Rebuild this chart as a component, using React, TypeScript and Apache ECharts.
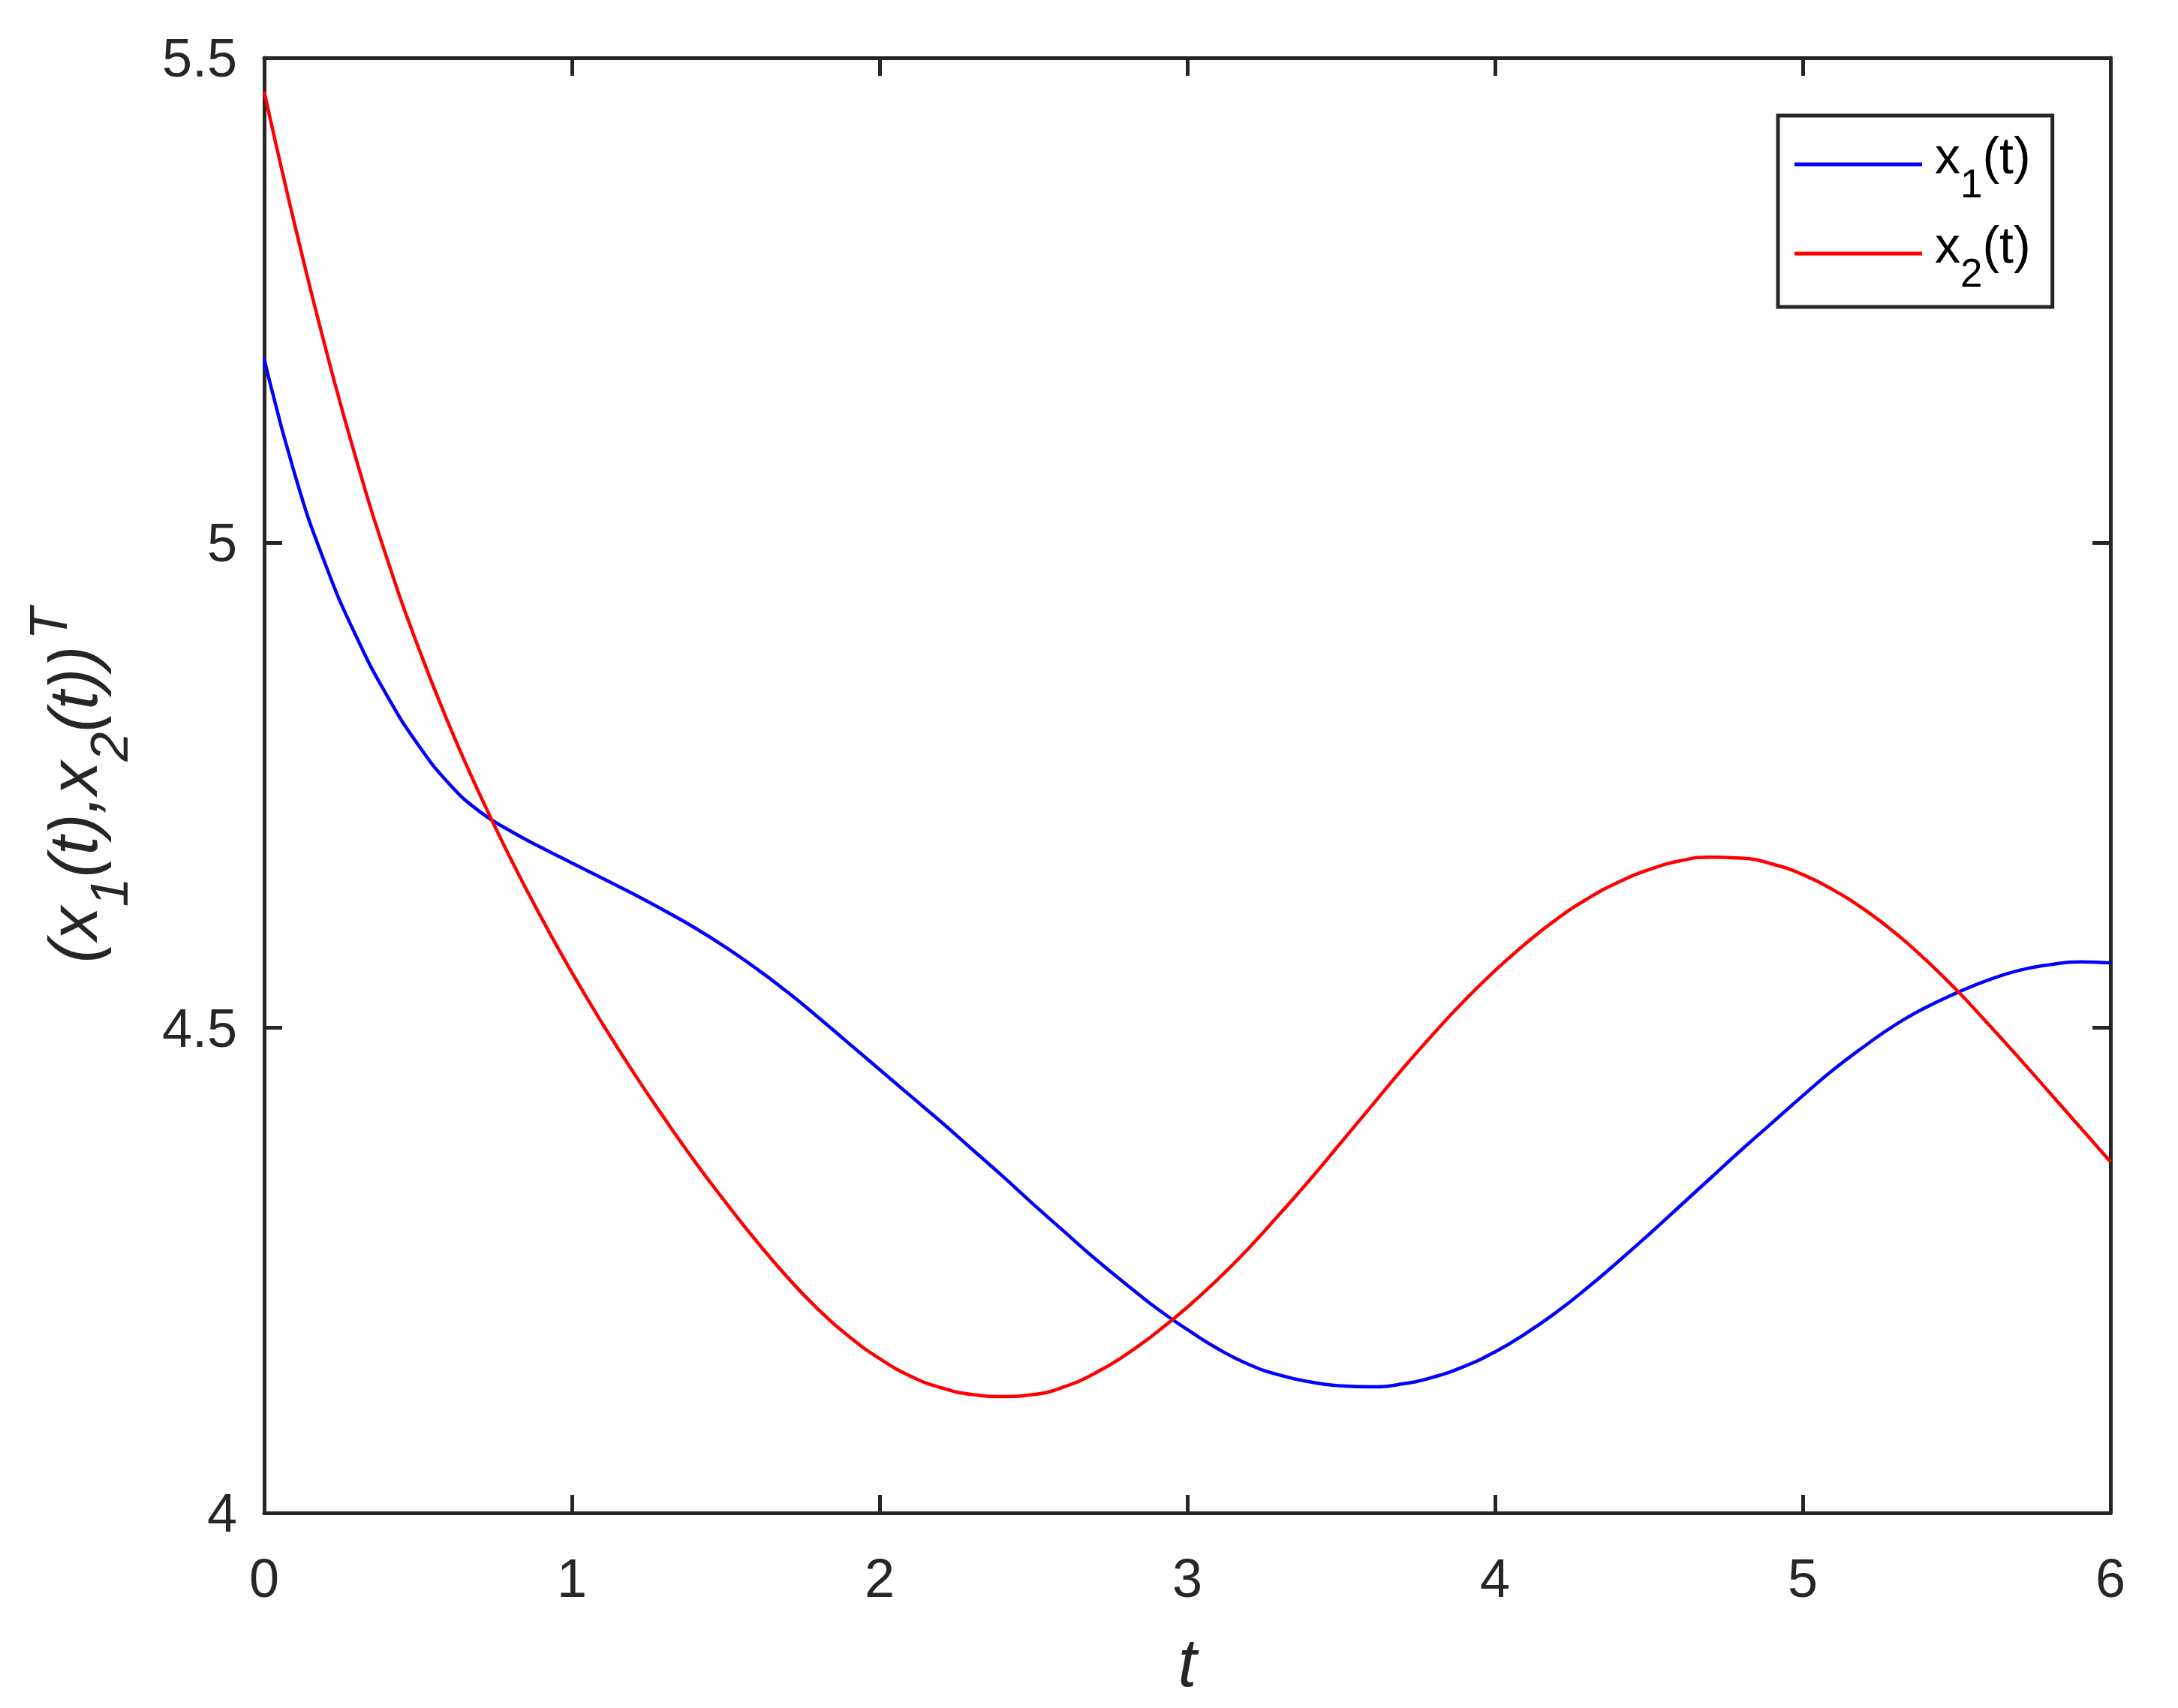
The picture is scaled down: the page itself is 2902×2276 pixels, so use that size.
import React, { useEffect, useRef } from 'react';
import * as echarts from 'echarts';

const tValues = [
  0.0, 0.1, 0.2, 0.3, 0.4, 0.5, 0.6, 0.7, 0.8, 0.9,
  1.0, 1.1, 1.2, 1.3, 1.4, 1.5, 1.6, 1.7, 1.8, 1.9,
  2.0, 2.1, 2.2, 2.3, 2.4, 2.5, 2.6, 2.7, 2.8, 2.9,
  3.0, 3.1, 3.2, 3.3, 3.4, 3.5, 3.6, 3.7, 3.8, 3.9,
  4.0, 4.1, 4.2, 4.3, 4.4, 4.5, 4.6, 4.7, 4.8, 4.9,
  5.0, 5.1, 5.2, 5.3, 5.4, 5.5, 5.6, 5.7, 5.8, 5.9,
  6.0,
];

const x1Values = [
  5.190, 5.070, 4.977, 4.903, 4.842, 4.792, 4.752, 4.723, 4.703, 4.686,
  4.670, 4.654, 4.638, 4.621, 4.603, 4.583, 4.561, 4.537, 4.511, 4.484,
  4.457, 4.430, 4.403, 4.375, 4.347, 4.318, 4.290, 4.262, 4.236, 4.211,
  4.189, 4.169, 4.153, 4.142, 4.135, 4.131, 4.130, 4.133, 4.140, 4.151,
  4.166, 4.185, 4.207, 4.232, 4.259, 4.287, 4.316, 4.345, 4.374, 4.402,
  4.430, 4.457, 4.481, 4.503, 4.521, 4.536, 4.549, 4.559, 4.565, 4.568,
  4.567,
];

const x2Values = [
  5.465, 5.327, 5.200, 5.085, 4.983, 4.893, 4.813, 4.741, 4.675, 4.614,
  4.557, 4.504, 4.454, 4.407, 4.362, 4.320, 4.280, 4.243, 4.210, 4.182,
  4.159, 4.141, 4.129, 4.122, 4.120, 4.122, 4.130, 4.144, 4.163, 4.186,
  4.212, 4.241, 4.273, 4.308, 4.344, 4.382, 4.420, 4.458, 4.494, 4.528,
  4.559, 4.587, 4.612, 4.633, 4.650, 4.663, 4.672, 4.676, 4.675, 4.669,
  4.658, 4.642, 4.622, 4.598, 4.570, 4.539, 4.505, 4.470, 4.434, 4.398,
  4.362,
];

const seriesNames = ['x1(t)', 'x2(t)'];
const seriesColors = ['#0000ff', '#ff0000'];
const xRange = [0, 6];
const xStep = 1;
const yRange = [4, 5.5];
const yStep = 0.5;
const xAxisTitle = 't';
const yAxisTitle = '{m|(x}{s|1}{m|(t),x}{s|2}{m|(t))}{p|T}';

const FONT = '"Liberation Sans", Arial, Helvetica, sans-serif';
const AXIS_COLOR = '#262626';

export default function App() {
  const ref = useRef<HTMLDivElement>(null);

  useEffect(() => {
    if (!ref.current) return;
    const chart = echarts.init(ref.current, null, { renderer: 'svg' });

    const toPairs = (vals: number[]) => tValues.map((t, i) => [t, vals[i]]);
    const allValues = [x1Values, x2Values];

    const axisCommon = {
      axisLine: { show: true, onZero: false, lineStyle: { color: AXIS_COLOR, width: 5 } },
      axisTick: { show: true, inside: true, length: 24, lineStyle: { color: AXIS_COLOR, width: 5 } },
      splitLine: { show: false },
    };

    const option: any = {
      animation: false,
      backgroundColor: '#ffffff',
      grid: { left: 352, right: 90, top: 77, bottom: 260, containLabel: false },
      legend: {
        show: true,
        orient: 'vertical',
        left: 2369,
        top: 154,
        padding: [19, 29, 19, 22],
        itemGap: 21,
        icon: 'rect',
        itemWidth: 170,
        itemHeight: 5,
        borderColor: AXIS_COLOR,
        borderWidth: 5,
        backgroundColor: '#ffffff',
        data: seriesNames,
        formatter: (name: string) => {
          const m = name.match(/^x(\d)\(t\)$/);
          const idx = m ? m[1] : '';
          return `{a|x}{s|${idx}}{b|(t)}`;
        },
        textStyle: {
          fontFamily: FONT,
          color: '#000000',
          rich: {
            a: { fontFamily: FONT, fontSize: 68, color: '#000000', verticalAlign: 'top', padding: [6, 0, 0, 12] },
            b: { fontFamily: FONT, fontSize: 68, color: '#000000', verticalAlign: 'top', padding: [6, 0, 0, 0] },
            s: { fontFamily: FONT, fontSize: 53, color: '#000000', verticalAlign: 'top', padding: [51, 0, 0, 0] },
          },
        },
      },
      xAxis: [
        {
          type: 'value',
          position: 'bottom',
          min: xRange[0],
          max: xRange[1],
          interval: xStep,
          name: xAxisTitle,
          nameLocation: 'middle',
          nameGap: 155,
          nameTextStyle: { fontFamily: FONT, fontSize: 90, fontStyle: 'italic', color: AXIS_COLOR },
          axisLabel: { show: true, margin: 51, fontFamily: FONT, fontSize: 72, color: AXIS_COLOR },
          ...axisCommon,
        },
        {
          type: 'value',
          position: 'top',
          min: xRange[0],
          max: xRange[1],
          interval: xStep,
          axisLabel: { show: false },
          ...axisCommon,
        },
      ],
      yAxis: [
        {
          type: 'value',
          position: 'left',
          min: yRange[0],
          max: yRange[1],
          interval: yStep,
          name: yAxisTitle,
          nameLocation: 'middle',
          nameGap: 171,
          nameTextStyle: {
            fontFamily: FONT,
            color: AXIS_COLOR,
            rich: {
              m: { fontFamily: FONT, fontSize: 90, fontStyle: 'italic', color: AXIS_COLOR, verticalAlign: 'top', padding: [24, 0, 0, 0] },
              s: { fontFamily: FONT, fontSize: 70, fontStyle: 'italic', color: AXIS_COLOR, verticalAlign: 'top', padding: [82, 0, 0, 0] },
              p: { fontFamily: FONT, fontSize: 70, fontStyle: 'italic', color: AXIS_COLOR, verticalAlign: 'top', padding: [1, 0, 0, 8] },
            },
          },
          axisLabel: { show: true, margin: 36, fontFamily: FONT, fontSize: 72, color: AXIS_COLOR, padding: [10, 0, 0, 0] },
          ...axisCommon,
        },
        {
          type: 'value',
          position: 'right',
          min: yRange[0],
          max: yRange[1],
          interval: yStep,
          axisLabel: { show: false },
          ...axisCommon,
        },
      ],
      series: seriesNames.map((name, i) => ({
        name,
        type: 'line',
        xAxisIndex: 0,
        yAxisIndex: 0,
        data: toPairs(allValues[i]),
        symbol: 'none',
        showSymbol: false,
        smooth: 0.5,
        lineStyle: { color: seriesColors[i], width: 4.5 },
        itemStyle: { color: seriesColors[i] },
        clip: true,
      })),
    };

    chart.setOption(option);
    return () => {
      chart.dispose();
    };
  }, []);

  return (
    <div
      ref={ref}
      style={{ position: 'fixed', left: 0, top: 0, width: 2902, height: 2276, background: '#ffffff' }}
    />
  );
}
